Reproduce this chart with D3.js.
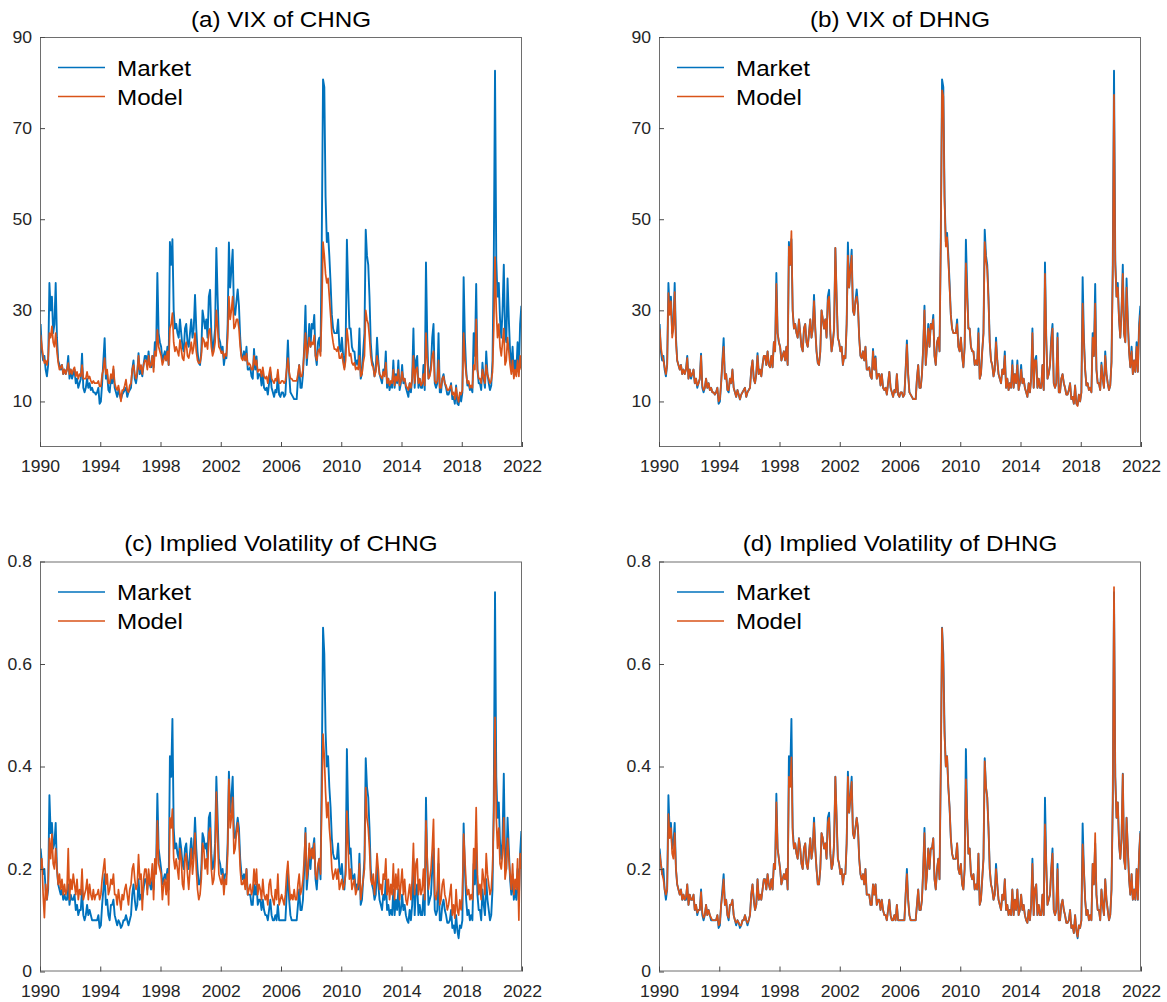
<!DOCTYPE html>
<html><head><meta charset="utf-8">
<script src="https://cdn.jsdelivr.net/npm/d3@7"></script>
<style>
body{margin:0;background:#fff}
text{font-family:"Liberation Sans",Arial,Helvetica,sans-serif}
</style>
</head><body>
<svg id="chart" width="1167" height="1002"></svg>
<script>
// ---------------- data (monthly readings, Jan 1990 - Dec 2021) ----------------
const startYear = 1990;
const xTicks = [1990,1994,1998,2002,2006,2010,2014,2018,2022];
const vixTicks = [10,30,50,70,90];
const ivTicks = [0,0.2,0.4,0.6,0.8];
const panelTitles = ["(a) VIX of CHNG","(b) VIX of DHNG","(c) Implied Volatility of CHNG","(d) Implied Volatility of DHNG"];
const seriesNames = ["Market","Model"];

const vixMarket = [
27,21,19,20,17,15.5,18,36,30,33,25,27,
36,24,19,18,17,18,16,17,16,17,20,15,
17,15,16,17,14,15,13,14,15,20.5,13,12,
13,15,13,14,12.5,13,12,12,11.5,12,13,9.5,
10,14,19,23.9,15,16,12.5,12,15,14,17,13,
12,11,12.5,11.5,10.4,11.5,12,12.5,13,11,12,12.5,
13,17,19,15,14,16,20.6,16,17,15.5,18,20,
20,18,21,18,17.5,20,17.5,23,21,38.2,25,23,
22,19,20,21,19,22,18,45,40,45.6,30,26,
27,25,24,28,25,22,21,26,27,23,22,25,
28,24,26,33.4,26,21,18.4,18,21,30,28,26,
28,24,33,34.5,25,21,23,26,43.7,33,24,23,
21,22,18,20,19.5,27,44.9,35,39,43.3,30,29,
32,34.6,31,24,20,19.5,21,19,22,17,17,17.5,
15.5,15,21.5,17,19.9,15,16,16,13.5,16,13,12.5,
13,11.5,14,16.5,13,12,11,12.5,12,16,11.5,11,
12,12,11,11.5,17,23.4,16,12,11.5,11,10.5,10.5,
10.5,15,18,13,13,16,22,31,18,22,27,22,
27,26,29,20,18,23,24,21,46,80.7,79,55,
45,47,42,36,29,26,25,25,25,28,22,21,
24,20,17.5,22,45.5,35,26,26,22,21,21,18,
19,18,26,15,16,21,25,47.7,42,40,33,23,
19,18,15.5,17,24,19,16,15,14,17,16,21,
13,15,12.5,14,13,19,13,16,14,19,12.5,14,
18,14,15,13,12,11,14,12,15,26,13,19,
20,13,15,13,13,18,12.5,40.5,24,15,16,18,
24,27,14,13,14,25,12,12,15,16,14,13,
11.5,11.5,12.5,14,10.5,11,9.5,13.5,9.5,9.2,11.5,10,
12,37.3,24,17,13.5,14,12.5,13,12,25,20,35.8,
17,14,14,12.5,18.5,15,13,21,16,14,12.5,13.5,
18.8,40,82.6,41,33,36,28,24,30,40,25,23,
37,28,21,17.5,22,16,19,16.5,23,16.5,27,31
];

const vixCHNG = [
24.6,22,20,18.4,19,18,19.5,25,24,26.5,23,22,
25,21,18.5,17,17.5,18,16,17,16,17,18.4,16,
17,16,17,17.5,15.5,16.5,15,16,15.5,18,15,15,
15,16.5,15,15.5,14.5,14,14.5,14,14,14,14.5,13.3,
13.3,16,17,19.5,16,17,14,14,16,15,17.7,14,
13,12.5,13.5,12,10,12.5,12.5,13.5,14.8,12.5,12,13.5,
14,17,18,16,15,16.5,20,17,18,16,18,19,
19,17,20,17.5,18,20,16.5,21,20,25.7,22,21,
20,18,19,20,19,21,18,26,27,29.4,23,21,
22,21,20,23.5,21.5,19.5,19,22,23,20,19.5,21,
23,20.5,22,25,21,19,18.4,18.5,20,24,23.5,22,
23,21.5,25.5,26,22,20,21,23,30,26,22,21.5,
20.6,21,19.5,20.5,20,24,33,28,30,33,26,26.5,
28,28,26,22,19.5,19,20,19,20.5,18,18.4,18,
17,17,20,18,19,16.5,17,17,15.5,17.5,15.5,15,
15.5,14,16,17.5,15,14.5,14,15,14.5,17,14,14,
14.5,14.5,14,14.5,17,19.5,16.5,15,15,14.5,14.5,14.5,
14.5,16,18,15.5,15.5,17,21,25,19.5,21.5,24,22,
23,22.5,24.5,20,19,21,21.5,20,30,45,42,38,
36,37,33,29,25,23,21.5,21.5,21,22,19.5,19.5,
20.5,18.5,17,19,26,23.5,20,20.5,18.5,18,18.5,17,
17.5,17,20,15.5,16,18.5,20,30,28,27,24,20,
18,17.5,15.5,16.5,20,18,16,15.5,15,16.5,15.5,18.5,
14,15,13.5,14.5,14,17,13.5,15.5,14.5,17,13.5,14.5,
16.5,14.5,15,13.5,13,12.5,14,13,15,20,14,17,
17.5,14,15,13.5,14,16,13.5,25,19,15,15.5,17,
20,21,14.5,14,14.5,19,13,13,15,15.5,14,13.5,
12.5,12.5,13,13.5,11.5,12,10.5,13,11,9.9,12,11.5,
12.5,25,19,16,14,14.5,13,13.5,13,18,17,28,
17,15,15,14,17,15.5,14,18,16,15,14,14.5,
16.5,26,41.7,30,24,27,22,20,23,26,18,19,
24,21,18,16,19,15,17,15.5,19,15.5,20,17
];

const vixDHNG = [
26,22,20,19,17.5,16,18,33.8,29,32,24,26,
34,23,19,18,17,18,16,17,16,17,19.5,15,
17,15.5,16,17,14,15,13.5,14,15,20,13.5,12.5,
13,15,13,14,12.5,13,12,12,11.5,12,13,10,
10.5,14,18.5,22,15,16,12.5,12.5,15,14,17,13,
12,11,12.5,11.5,10.5,11.5,12,12.5,13,11,12,12.5,
13,17,19,15,14,16,20,16,17,15.5,18,20,
20,18,21,18,17.5,20,17.5,23,21,35.8,25,23,
22,19,20,21,19,22,18,44,40,47.4,30,26,
27,25,24,28,25,22,21,26,27,23,22,25,
28,24,26,32,26,21,18.5,18,21,30,28,26,
28,24,32,33,25,21,23,26,43.7,33,24,23,
21,22,18,20,19.5,27,42,35,39,42,30,29,
32,33,31,24,20,19.5,21,19,22,17,17,17.5,
15.5,15,21,17,19.5,15,16,16,13.5,16,13,12.5,
13,11.5,14,16.5,13,12,11,12.5,12,16,11.5,11,
12,12,11,11.5,17,22.5,16,12,11.5,11,10.5,10.5,
10.5,15,18,13,13,16,22,30,18,22,26,22,
27,26,28,20,18,23,24,21,45,78.3,77,54,
44,46,41,35,29,26,25,25,25,27,22,21,
24,20,17.5,22,40.3,33,26,26,22,21,21,18,
19,18,25,15,16,21,25,45,41,39,32,23,
19,18,15.5,17,23,19,16,15,14,17,16,20,
13,15,12.5,14,13,18,13,16,14,18,12.5,14,
17,14,15,13,12,11,14,12,15,25,13,19,
19,13,15,13,13,18,12.5,38,24,15,16,18,
23,26,14,13,14,24,12,12,15,16,14,13,
11.5,11.5,12.5,14,10.5,11,9.5,13.5,9.5,9,11.5,10,
12,31.5,23,17,13.5,14,12.5,13,12,24,20,31.5,
17,14,14,12.5,18,15,13,20,16,14,12.5,13.5,
18.5,38,77.3,40,33,35,28,24,30,38,25,23,
35,27,21,17.5,21,16,19,16.5,22,16.5,26,29
];

const ivMarket = [
.24,.21,.19,.2,.16,.14,.16,.344,.27,.29,.24,.25,
.29,.2,.17,.16,.15,.16,.14,.15,.14,.14,.17,.13,
.15,.14,.14,.15,.12,.13,.11,.12,.12,.16,.11,.1,
.11,.13,.11,.12,.11,.1,.1,.1,.1,.1,.11,.085,
.09,.13,.16,.19,.13,.14,.11,.1,.13,.13,.14,.11,
.1,.09,.1,.095,.085,.09,.1,.1,.11,.1,.09,.1,
.11,.15,.17,.14,.12,.13,.18,.14,.15,.14,.16,.18,
.18,.16,.19,.17,.16,.18,.16,.21,.2,.347,.24,.22,
.2,.17,.18,.19,.18,.2,.16,.42,.38,.493,.28,.24,
.25,.23,.22,.26,.24,.21,.2,.24,.25,.21,.2,.23,
.26,.22,.24,.3,.24,.2,.17,.17,.2,.27,.26,.24,
.25,.22,.3,.31,.23,.2,.21,.25,.38,.3,.22,.21,
.19,.2,.17,.19,.19,.25,.39,.31,.34,.38,.27,.26,
.28,.3,.28,.22,.19,.18,.19,.17,.2,.15,.15,.15,
.13,.13,.17,.15,.17,.13,.14,.14,.12,.14,.12,.11,
.11,.1,.12,.14,.11,.1,.1,.11,.1,.13,.1,.1,
.1,.1,.1,.1,.15,.2,.14,.11,.1,.1,.1,.1,
.1,.13,.16,.12,.12,.14,.2,.28,.16,.19,.24,.2,
.24,.24,.26,.18,.16,.2,.22,.18,.4,.671,.62,.47,
.4,.42,.36,.32,.26,.23,.22,.22,.22,.25,.2,.19,
.21,.17,.16,.2,.434,.3,.23,.24,.19,.18,.19,.16,
.17,.16,.23,.13,.14,.18,.22,.416,.36,.34,.28,.2,
.17,.16,.14,.15,.21,.17,.14,.13,.12,.15,.14,.18,
.12,.13,.11,.12,.11,.16,.11,.14,.12,.16,.11,.12,
.15,.12,.13,.11,.1,.095,.12,.1,.13,.22,.11,.16,
.17,.11,.13,.11,.11,.15,.11,.339,.21,.13,.14,.15,
.2,.24,.12,.11,.12,.21,.1,.1,.13,.14,.12,.11,
.095,.095,.1,.12,.085,.09,.075,.11,.08,.065,.09,.085,
.1,.289,.2,.14,.11,.12,.1,.11,.1,.21,.17,.25,
.15,.12,.12,.1,.16,.13,.11,.18,.14,.12,.1,.11,
.16,.33,.74,.38,.3,.33,.25,.22,.26,.386,.22,.2,
.3,.24,.18,.15,.19,.14,.16,.14,.2,.14,.23,.274
];

const ivCHNG = [
.2,.22,.15,.105,.17,.14,.17,.26,.22,.268,.21,.2,
.24,.2,.17,.19,.16,.18,.15,.17,.15,.16,.24,.14,
.18,.16,.19,.17,.15,.18,.14,.16,.15,.2,.14,.15,
.16,.18,.14,.17,.15,.14,.16,.14,.15,.15,.16,.14,
.15,.18,.2,.22,.17,.19,.15,.16,.18,.17,.19,.15,
.15,.13,.16,.14,.12,.15,.14,.16,.17,.15,.13,.16,
.17,.2,.21,.18,.16,.17,.228,.18,.19,.12,.18,.2,
.2,.15,.2,.17,.18,.21,.14,.22,.19,.294,.21,.2,
.19,.14,.17,.18,.15,.19,.13,.3,.28,.317,.22,.2,
.22,.2,.18,.24,.22,.17,.16,.22,.23,.19,.16,.2,
.24,.19,.22,.27,.2,.16,.14,.15,.18,.25,.24,.2,
.22,.19,.27,.28,.2,.17,.18,.22,.35,.26,.19,.18,
.17,.19,.15,.18,.17,.23,.375,.28,.3,.34,.23,.24,
.27,.29,.26,.2,.17,.17,.18,.16,.2,.15,.16,.17,
.15,.16,.2,.17,.2,.15,.17,.16,.14,.18,.15,.14,
.15,.13,.17,.18,.15,.14,.13,.16,.14,.19,.13,.14,
.15,.14,.13,.15,.19,.215,.17,.14,.15,.14,.16,.14,
.14,.17,.19,.15,.16,.18,.22,.27,.18,.2,.25,.22,
.24,.22,.25,.19,.18,.21,.22,.19,.33,.463,.42,.35,
.3,.33,.28,.25,.2,.18,.19,.2,.18,.2,.16,.17,
.18,.16,.17,.19,.313,.24,.18,.2,.16,.17,.18,.15,
.16,.17,.21,.14,.16,.18,.2,.359,.3,.28,.24,.18,
.17,.19,.15,.18,.23,.2,.16,.17,.15,.19,.18,.22,
.15,.18,.14,.17,.15,.21,.14,.19,.16,.2,.14,.17,
.2,.15,.18,.14,.13,.15,.17,.14,.18,.25,.15,.21,
.22,.15,.18,.15,.16,.2,.14,.294,.22,.16,.18,.2,
.24,.297,.15,.14,.16,.24,.13,.14,.17,.18,.15,.14,
.12,.13,.15,.17,.11,.13,.104,.16,.12,.11,.14,.12,
.15,.268,.22,.17,.15,.16,.14,.15,.14,.24,.2,.32,
.19,.15,.17,.14,.2,.18,.15,.23,.19,.17,.15,.16,
.2,.3,.496,.3,.24,.28,.21,.2,.23,.3,.18,.2,
.26,.22,.19,.16,.21,.15,.18,.16,.22,.1,.23,.2
];

const ivDHNG = [
.23,.21,.19,.18,.16,.15,.16,.307,.26,.28,.23,.22,
.27,.2,.17,.16,.15,.16,.14,.15,.14,.145,.17,.13,
.15,.14,.14,.15,.12,.13,.115,.12,.12,.155,.115,.105,
.11,.13,.11,.12,.11,.105,.1,.1,.1,.1,.11,.09,
.095,.13,.15,.18,.13,.14,.11,.105,.13,.13,.14,.11,
.1,.095,.1,.095,.09,.09,.1,.1,.11,.1,.095,.1,
.11,.15,.17,.14,.12,.13,.18,.14,.15,.14,.16,.18,
.18,.16,.19,.17,.16,.18,.16,.21,.2,.33,.24,.22,
.2,.17,.18,.19,.18,.2,.16,.38,.36,.418,.27,.24,
.25,.23,.22,.26,.24,.21,.2,.24,.25,.21,.2,.23,
.26,.22,.24,.29,.24,.2,.17,.17,.2,.27,.26,.24,
.25,.22,.29,.3,.23,.2,.21,.25,.38,.3,.22,.21,
.19,.2,.17,.19,.19,.25,.38,.31,.34,.37,.27,.26,
.28,.3,.28,.22,.19,.18,.19,.17,.2,.15,.15,.15,
.13,.13,.17,.15,.17,.13,.14,.14,.12,.14,.12,.11,
.11,.1,.12,.14,.11,.1,.1,.11,.1,.13,.1,.1,
.1,.1,.1,.1,.15,.19,.14,.11,.1,.1,.1,.1,
.1,.13,.16,.12,.12,.14,.2,.27,.16,.19,.24,.2,
.24,.24,.26,.18,.16,.2,.22,.18,.4,.67,.6,.46,
.4,.42,.36,.32,.26,.23,.22,.22,.22,.25,.2,.19,
.21,.17,.16,.2,.375,.3,.23,.24,.19,.18,.19,.16,
.17,.16,.23,.13,.14,.18,.22,.41,.36,.34,.28,.2,
.17,.16,.14,.15,.2,.17,.14,.13,.12,.15,.14,.18,
.12,.13,.11,.12,.11,.16,.11,.14,.12,.16,.11,.12,
.15,.12,.13,.11,.1,.095,.12,.1,.13,.21,.11,.16,
.17,.11,.13,.11,.11,.15,.11,.287,.21,.13,.14,.15,
.2,.23,.12,.11,.12,.2,.1,.1,.13,.14,.12,.11,
.095,.095,.1,.12,.085,.09,.075,.11,.08,.068,.09,.085,
.1,.248,.2,.14,.11,.12,.1,.11,.1,.21,.17,.27,
.15,.12,.12,.1,.16,.13,.11,.18,.14,.12,.1,.11,
.16,.33,.75,.38,.3,.33,.25,.22,.26,.385,.22,.2,
.3,.24,.18,.15,.19,.14,.16,.14,.2,.14,.23,.27
];

// ---------------- drawing ----------------
const W = 482, H = 410;
const colors = {market: "#0072BD", model: "#D95319"};
const frameColor = "#6e6e6e";
const tickColor = "#4a4a4a";
const panels = [
  {title: panelTitles[0], market: vixMarket, model: vixCHNG, domain: [0, 90], ticks: vixTicks, left: 40, top: 37},
  {title: panelTitles[1], market: vixMarket, model: vixDHNG, domain: [0, 90], ticks: vixTicks, left: 659, top: 37},
  {title: panelTitles[2], market: ivMarket, model: ivCHNG, domain: [0, 0.8], ticks: ivTicks, left: 40, top: 561.5},
  {title: panelTitles[3], market: ivMarket, model: ivDHNG, domain: [0, 0.8], ticks: ivTicks, left: 659, top: 561.5}
];

const svg = d3.select("#chart");
const toPoints = arr => arr.map((v, i) => ({t: startYear + (i + 0.5) / 12, v}));

panels.forEach(p => {
  const g = svg.append("g").attr("transform", `translate(${p.left},${p.top})`);
  const x = d3.scaleLinear().domain([1990, 2022]).range([0, W]);
  const y = d3.scaleLinear().domain(p.domain).range([H, 0]);

  const clipId = "clip" + p.left + "_" + Math.round(p.top);
  g.append("clipPath").attr("id", clipId).append("rect").attr("width", W).attr("height", H);

  const line = d3.line().x(d => x(d.t)).y(d => y(d.v));
  const dg = g.append("g").attr("clip-path", `url(#${clipId})`);
  dg.append("path").datum(toPoints(p.market)).attr("d", line)
    .attr("fill", "none").attr("stroke", colors.market).attr("stroke-width", 1.9).attr("stroke-linejoin", "round");
  dg.append("path").datum(toPoints(p.model)).attr("d", line)
    .attr("fill", "none").attr("stroke", colors.model).attr("stroke-width", 1.7).attr("stroke-linejoin", "round");

  // frame
  g.append("rect").attr("x", 0.5).attr("y", 0.5).attr("width", W - 1).attr("height", H - 1)
    .attr("fill", "none").attr("stroke", frameColor).attr("stroke-width", 1);

  // axes with inward ticks
  const xAxis = d3.axisBottom(x).tickValues(xTicks).tickFormat(d3.format("d")).tickSize(-5).tickPadding(13);
  const yAxis = d3.axisLeft(y).tickValues(p.ticks).tickFormat(d => String(d)).tickSize(-5).tickPadding(13);
  const xa = g.append("g").attr("transform", `translate(0,${H})`).call(xAxis);
  const ya = g.append("g").call(yAxis);
  [xa, ya].forEach(a => {
    a.select(".domain").remove();
    a.selectAll(".tick line").attr("stroke", tickColor);
    a.selectAll(".tick text").attr("fill", "#262626").style("font-size", "16px")
      .attr("font-family", '"Liberation Sans", Arial, sans-serif');
  });
  xa.selectAll(".tick text").attr("dy", null).attr("y", 25);
  ya.selectAll(".tick text").attr("x", -8);

  // title
  g.append("text").attr("x", W / 2).attr("y", -10.5)
    .attr("text-anchor", "middle").style("font-size", "22px").attr("fill", "#000").text(p.title);

  // legend
  const lg = g.append("g");
  [["market", seriesNames[0]], ["model", seriesNames[1]]].forEach(([k, name], i) => {
    const ly = 30.5 + i * 29;
    lg.append("line").attr("x1", 18).attr("x2", 65).attr("y1", ly).attr("y2", ly)
      .attr("stroke", colors[k]).attr("stroke-width", 1.6);
    lg.append("text").attr("x", 77).attr("y", ly + 8.3)
      .style("font-size", "22px").attr("fill", "#000").text(name);
  });
});

// the reference glyphs are slightly wider than Liberation Sans: widen text horizontally
svg.selectAll("text").each(function() {
  const L = this.getComputedTextLength();
  d3.select(this).attr("textLength", L * 1.1).attr("lengthAdjust", "spacingAndGlyphs");
});
</script>
</body></html>
